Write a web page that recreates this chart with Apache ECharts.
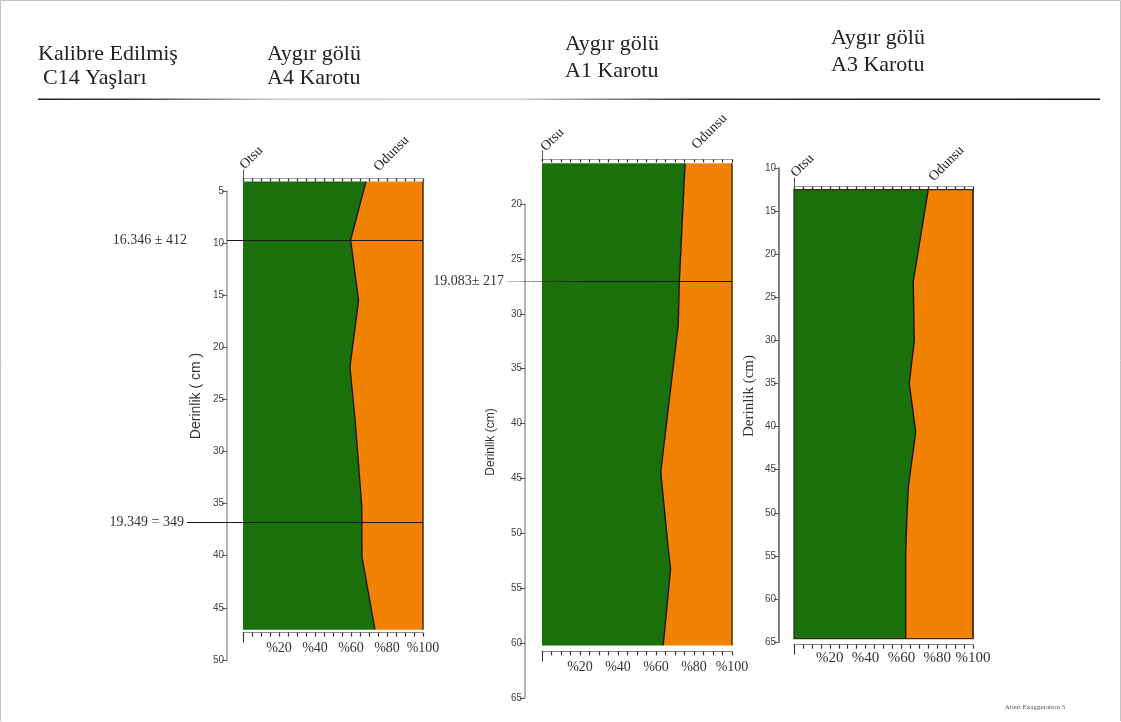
<!DOCTYPE html>
<html><head><meta charset="utf-8">
<script src="https://cdn.jsdelivr.net/npm/echarts@6/dist/echarts.min.js"></script>
<style>html,body{margin:0;padding:0;background:#fff}#c{width:1121px;height:722px}</style>
</head><body><div id="c"></div>
<script>
// ---------------- DATA ----------------
const a4Depth = [4.1, 9.7, 15.5, 21.9, 27.0, 35.3, 40.1, 47.1];
const a4Otsu  = [68.3, 59.8, 64.2, 59.4, 62.3, 66.0, 66.1, 73.3];
const a1Depth = [16.3, 27.0, 31.0, 44.4, 51.5, 53.2, 60.2];
const a1Otsu  = [75.3, 72.3, 71.7, 62.5, 66.5, 67.7, 63.8];
const a3Depth = [12.5, 23.2, 30.0, 35.0, 40.6, 47.0, 50.8, 54.7, 64.6];
const a3Otsu  = [75.0, 66.6, 67.2, 64.4, 68.0, 63.9, 63.0, 62.4, 62.4];
const a4AxisRange = [5, 50];
const a1AxisRange = [20, 65];
const a3AxisRange = [10, 65];
const a4Dates = [9.7, 36.8];
const a4DateLabels = ['16.346 ± 412', '19.349 = 349'];
const a1Dates = [27.0];
const a1DateLabels = ['19.083± 217'];
const a3Dates = [];
const a3DateLabels = [];
const pctLabelStep = 20;
const titleLines = [['Kalibre Edilmiş', 'C14 Yaşları'], ['Aygır gölü', 'A4 Karotu'], ['Aygır gölü', 'A1 Karotu'], ['Aygır gölü', 'A3 Karotu']];
const depthTitles = ['Derinlik ( cm )', 'Derinlik (cm)', 'Derinlik (cm)'];
const colNames = ['Otsu', 'Odunsu'];
const footNote = 'Abert Exaggeration 5';

// ---------------- STYLE / LAYOUT ----------------
const GREEN = '#1a700b', ORANGE = '#f18204';
const SERIF = "'Liberation Serif', 'DejaVu Serif', serif";
const SANS = "'Liberation Sans', 'DejaVu Sans', sans-serif";

const panels = [
  {depth: a4Depth, otsu: a4Otsu, range: a4AxisRange, dates: a4Dates, dateLabels: a4DateLabels,
   L: {axisX: 227, axisTop: 191, ppc: 10.42, plotLeft: 243, plotW: 180, topOff: 3, botOff: 3,
       dateLeft: 187, dateStarts: [227, 187], dateGaps: [40, 3], dateGradient: false,
       axisColor: '#9a9a9a', outline: false, pctFont: 14, pctMargin: 9,
       depthTitle: {x: 196, y: 396, font: SANS, size: 14},
       otsuAt: [247, 172], odunsuAt: [381, 174]}},
  {depth: a1Depth, otsu: a1Otsu, range: a1AxisRange, dates: a1Dates, dateLabels: a1DateLabels,
   L: {axisX: 525, axisTop: 204, ppc: 10.98, plotLeft: 542, plotW: 190, topOff: 4, botOff: 6,
       dateLeft: 507, dateStarts: [507], dateGaps: [3], dateGradient: true,
       axisColor: '#9a9a9a', outline: false, pctFont: 14, pctMargin: 9,
       depthTitle: {x: 491, y: 442, font: SANS, size: 12},
       otsuAt: [548, 154], odunsuAt: [699, 152]}},
  {depth: a3Depth, otsu: a3Otsu, range: a3AxisRange, dates: a3Dates, dateLabels: a3DateLabels,
   L: {axisX: 779, axisTop: 168, ppc: 8.62, plotLeft: 794, plotW: 179, topOff: 3, botOff: 6,
       dateLeft: 794, dateStarts: [], dateGaps: [], dateGradient: false,
       axisColor: '#555', outline: true, pctFont: 15, pctMargin: 6,
       depthTitle: {x: 749, y: 396, font: SERIF, size: 15},
       otsuAt: [798, 180], odunsuAt: [936, 184]}}
];

function fillRenderer(depth, otsu, outline) {
  return function (params, api) {
    if (params.dataIndex !== 0) return null;
    const n = depth.length;
    const b = depth.map((d, i) => api.coord([otsu[i], d]));
    const l0 = api.coord([0, depth[0]]), l1 = api.coord([0, depth[n - 1]]);
    const r0 = api.coord([100, depth[0]]), r1 = api.coord([100, depth[n - 1]]);
    const children = [
      {type: 'polygon', shape: {points: [l0].concat(b, [l1])}, style: {fill: GREEN}},
      {type: 'polygon', shape: {points: b.concat([r1, r0])}, style: {fill: ORANGE}},
      {type: 'polyline', shape: {points: b}, style: {stroke: '#111', lineWidth: 1.3, fill: null}},
      {type: 'line', shape: {x1: r0[0], y1: r0[1], x2: r1[0], y2: r1[1]}, style: {stroke: '#5a3412', lineWidth: 1.6}}
    ];
    if (outline) children.push({type: 'polygon', shape: {points: [l0, r0, r1, l1]}, style: {fill: null, stroke: '#3b2a18', lineWidth: 1.3}});
    return {type: 'group', children: children};
  };
}

const grid = [], xAxis = [], yAxis = [], series = [], graphic = [];

panels.forEach((p) => {
  const L = p.L, n = p.depth.length;
  const plotTop = L.axisTop + (p.depth[0] - p.range[0]) * L.ppc;
  const plotH = (p.depth[n - 1] - p.depth[0]) * L.ppc;

  // plot grid
  const g = grid.length;
  grid.push({left: L.plotLeft, top: plotTop, width: L.plotW, height: plotH});
  const xTop = xAxis.length;
  xAxis.push({type: 'value', gridIndex: g, min: 0, max: 100, interval: 5, position: 'top', offset: L.topOff,
    axisLine: {show: true, lineStyle: {color: '#a0a0a0', width: 1}},
    axisTick: {show: true, inside: true, length: 3, lineStyle: {color: '#333', width: 1.3}},
    axisLabel: {show: false}, splitLine: {show: false}});
  xAxis.push({type: 'value', gridIndex: g, min: 0, max: 100, position: 'top', offset: L.topOff,
    axisLine: {show: false}, axisTick: {show: true, customValues: [0], length: 9, lineStyle: {color: '#555', width: 1}},
    axisLabel: {show: false}, splitLine: {show: false}});
  xAxis.push({type: 'value', gridIndex: g, min: 0, max: 100, interval: 5, position: 'bottom', offset: L.botOff,
    axisLine: {show: true, lineStyle: {color: '#888', width: 1}},
    axisTick: {show: true, length: 4, lineStyle: {color: '#333', width: 1.2}},
    axisLabel: {show: true, margin: L.pctMargin, fontFamily: SERIF, fontSize: L.pctFont, color: '#333',
      formatter: v => (v > 0 && v % pctLabelStep === 0) ? '%' + v : ''},
    splitLine: {show: false}});
  xAxis.push({type: 'value', gridIndex: g, min: 0, max: 100, position: 'bottom', offset: L.botOff,
    axisLine: {show: false}, axisTick: {show: true, customValues: [0], length: 10, lineStyle: {color: '#333', width: 1}},
    axisLabel: {show: false}, splitLine: {show: false}});
  const yPlot = yAxis.length;
  yAxis.push({type: 'value', gridIndex: g, inverse: true, min: p.depth[0], max: p.depth[n - 1], show: false});
  series.push({type: 'custom', xAxisIndex: xTop, yAxisIndex: yPlot, silent: true,
    renderItem: fillRenderer(p.depth, p.otsu, L.outline),
    data: p.depth.map((d, i) => [p.otsu[i], d]), encode: {x: 0, y: 1}});

  // depth axis grid
  const gd = grid.length;
  grid.push({left: L.axisX, top: L.axisTop, width: 10, height: (p.range[1] - p.range[0]) * L.ppc});
  xAxis.push({type: 'value', gridIndex: gd, show: false, min: 0, max: 1});
  yAxis.push({type: 'value', gridIndex: gd, inverse: true, min: p.range[0], max: p.range[1], interval: 5, position: 'left',
    axisLine: {show: true, lineStyle: {color: L.axisColor, width: 1.5}},
    axisTick: {show: true, length: 5, lineStyle: {color: '#555', width: 1}},
    axisLabel: {fontSize: 10, color: '#444', fontFamily: SANS, margin: 3},
    splitLine: {show: false}});

  // dating lines grid
  if (p.dates.length) {
    const gdt = grid.length;
    const w = L.plotLeft + L.plotW - L.dateLeft;
    grid.push({left: L.dateLeft, top: plotTop, width: w, height: plotH});
    const xi = xAxis.length;
    xAxis.push({type: 'value', gridIndex: gdt, show: false, min: 0, max: 1});
    const yi = yAxis.length;
    yAxis.push({type: 'value', gridIndex: gdt, show: false, inverse: true, min: p.depth[0], max: p.depth[n - 1]});
    const lineColor = L.dateGradient ? {type: 'linear', x: 0, y: 0, x2: 1, y2: 0,
      colorStops: [{offset: 0, color: 'rgba(60,60,60,0.25)'}, {offset: 0.35, color: 'rgba(20,20,20,0.9)'}, {offset: 1, color: '#111'}]} : '#1a1a1a';
    series.push({type: 'line', xAxisIndex: xi, yAxisIndex: yi, data: [], showSymbol: false, silent: true,
      markLine: {symbol: ['none', 'none'], silent: true, animation: false,
        lineStyle: {color: lineColor, width: 1, type: 'solid'},
        label: {show: true, position: 'start', fontFamily: SERIF, fontSize: 14, color: '#333'},
        data: p.dates.map((d, i) => [
          {coord: [(L.dateStarts[i] - L.dateLeft) / w, d], label: {formatter: p.dateLabels[i], distance: L.dateGaps[i]}},
          {coord: [1, d]}
        ])}});
  }

  // column names
  graphic.push({type: 'text', x: L.otsuAt[0], y: L.otsuAt[1], rotation: Math.PI / 4, silent: true,
    style: {text: colNames[0], font: '14px ' + SERIF, fill: '#222', textAlign: 'left', textVerticalAlign: 'bottom'}});
  graphic.push({type: 'text', x: L.odunsuAt[0], y: L.odunsuAt[1], rotation: Math.PI / 4, silent: true,
    style: {text: colNames[1], font: '14px ' + SERIF, fill: '#222', textAlign: 'left', textVerticalAlign: 'bottom'}});
});

panels.forEach((p, i) => {
  const t = p.L.depthTitle;
  graphic.push({type: 'text', x: t.x, y: t.y, rotation: Math.PI / 2, silent: true,
    style: {text: depthTitles[i], font: t.size + 'px ' + t.font, fill: '#333', textAlign: 'center', textVerticalAlign: 'middle'}});
});

// titles
const titlePos = [[38, 54, 43, 78], [267, 54, 267, 78], [565, 44, 565, 71], [831, 38, 831, 65]];
titleLines.forEach((tl, i) => {
  const pos = titlePos[i];
  graphic.push({type: 'text', x: pos[0], y: pos[1], silent: true,
    style: {text: tl[0], font: '22px ' + SERIF, fill: '#222', textAlign: 'left', textVerticalAlign: 'middle'}});
  graphic.push({type: 'text', x: pos[2], y: pos[3], silent: true,
    style: {text: tl[1], font: '22px ' + SERIF, fill: '#222', textAlign: 'left', textVerticalAlign: 'middle'}});
});
// rule under titles
graphic.push({type: 'rect', shape: {x: 38, y: 98.5, width: 1062, height: 1.5}, silent: true,
  style: {fill: {type: 'linear', x: 0, y: 0, x2: 1, y2: 0, colorStops: [
    {offset: 0, color: '#222'}, {offset: 0.1, color: '#444'}, {offset: 0.22, color: '#c8c8c8'},
    {offset: 0.45, color: '#d0d0d0'}, {offset: 0.62, color: '#333'}, {offset: 1, color: '#111'}]}}});
// frame
graphic.push({type: 'polyline', silent: true, shape: {points: [[0.5, 721], [0.5, 0.5], [1120.5, 0.5], [1120.5, 721]]},
  style: {stroke: '#c4c4c4', lineWidth: 1, fill: null}});
// foot note
graphic.push({type: 'text', x: 1035, y: 707, silent: true,
  style: {text: footNote, font: '7px ' + SERIF, fill: '#555', textAlign: 'center', textVerticalAlign: 'middle'}});

const chart = echarts.init(document.getElementById('c'), null, {renderer: 'canvas'});
chart.setOption({
  backgroundColor: '#ffffff',
  animation: false,
  grid: grid, xAxis: xAxis, yAxis: yAxis, series: series, graphic: graphic
});
</script></body></html>
